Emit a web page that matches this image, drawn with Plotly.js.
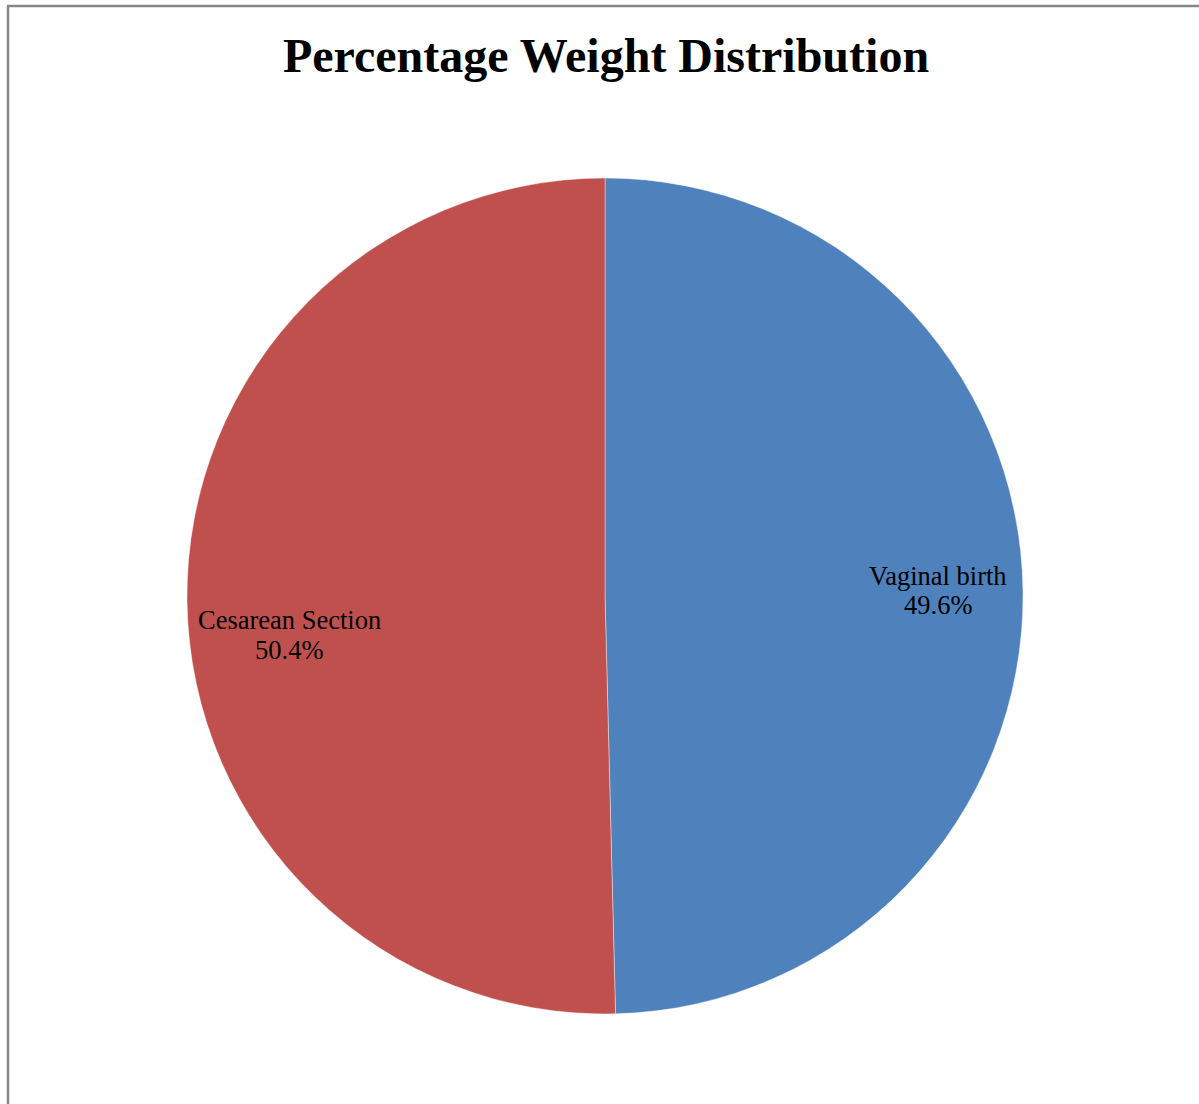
<!DOCTYPE html>
<html>
<head>
<meta charset="utf-8">
<script src="https://cdn.plot.ly/plotly-3.0.1.min.js"></script>
<style>
html,body{margin:0;padding:0;background:#fff;}
#chart{width:1199px;height:1104px;}
</style>
</head>
<body>
<div id="chart"></div>
<script>
const categories = ["Vaginal birth", "Cesarean Section"];
const values = [49.6, 50.4];
const colors = ["#4F81BD", "#C0504D"];

const W = 1199, H = 1104;
const cx = 605, cy = 596, R = 418;
const serif = "Liberation Serif, Times New Roman, serif";

const trace = {
  type: "pie",
  labels: categories,
  values: values,
  sort: false,
  direction: "clockwise",
  rotation: 0,
  marker: {colors: colors, line: {color: "rgba(255,255,255,0.4)", width: 1}},
  textinfo: "none",
  hoverinfo: "label+percent",
  domain: {x: [(cx - R)/W, (cx + R)/W], y: [(H - cy - R)/H, (H - cy + R)/H]},
  showlegend: false
};

// label annotations placed from slice mid-angles (two lines each)
const total = values.reduce((a, b) => a + b, 0);
const labelRadius = [0.797, 0.755];
const labelDy = [-1.5, 35];
const lineGap = 29.5;
const fontSize = 26.5;
let cum = 0;
const annotations = [];
categories.forEach((c, i) => {
  const mid = (cum + values[i] / 2) / total * 2 * Math.PI;
  cum += values[i];
  const px = cx + labelRadius[i] * R * Math.sin(mid);
  const py = cy - labelRadius[i] * R * Math.cos(mid) + labelDy[i];
  const lines = [c, (values[i] / total * 100).toFixed(1) + "%"];
  lines.forEach((t, k) => {
    const ly = py + (k - 0.5) * lineGap;
    annotations.push({
      xref: "paper", yref: "paper",
      x: px / W, y: 1 - ly / H,
      xanchor: "center", yanchor: "middle",
      showarrow: false, align: "center",
      text: t,
      font: {family: serif, size: fontSize, color: "#000"}
    });
  });
});

const layout = {
  width: W, height: H,
  margin: {l: 0, r: 0, t: 0, b: 0},
  paper_bgcolor: "#fff",
  title: {
    text: "<b>Percentage Weight Distribution</b>",
    font: {family: serif, size: 48, color: "#000"},
    x: 606/W, xanchor: "center",
    y: 1 - 55/H, yanchor: "middle"
  },
  annotations: annotations,
  shapes: [
    {type: "line", xref: "paper", yref: "paper", x0: 8/W, y0: 0, x1: 8/W, y1: 1 - 6/H, line: {color: "#868686", width: 2.5}},
    {type: "line", xref: "paper", yref: "paper", x0: 7/W, y0: 1 - 6/H, x1: 1, y1: 1 - 6/H, line: {color: "#868686", width: 2.5}}
  ]
};

Plotly.newPlot("chart", [trace], layout, {displayModeBar: false, staticPlot: true});
</script>
</body>
</html>
